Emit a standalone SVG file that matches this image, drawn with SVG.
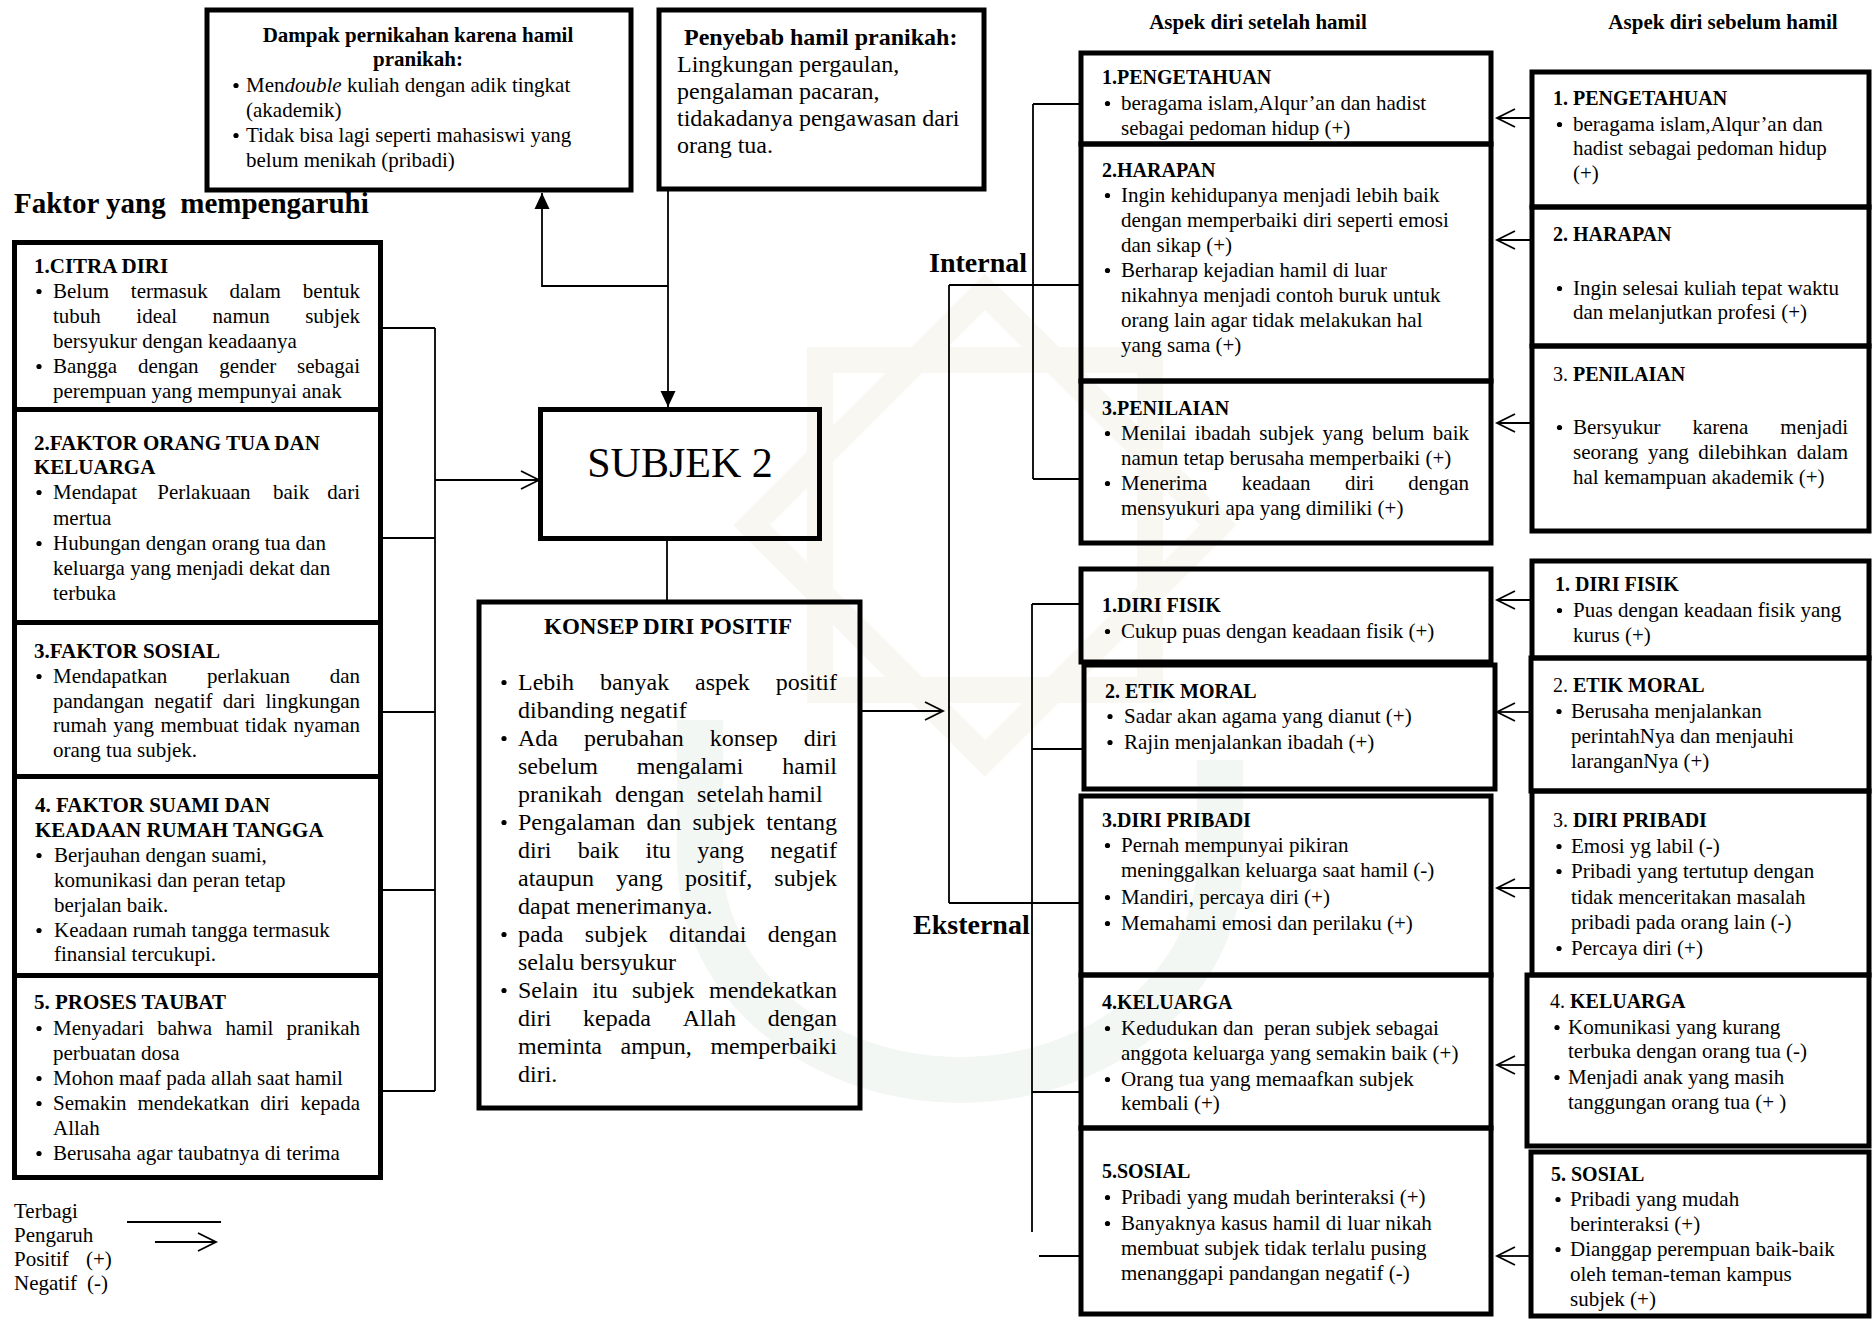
<svg xmlns="http://www.w3.org/2000/svg" xmlns:xlink="http://www.w3.org/1999/xlink" width="1872" height="1319" viewBox="0 0 1872 1319">
<style>
.t{font-family:"Liberation Serif","Times New Roman",serif;font-size:21px;fill:#000}
.b{font-weight:bold}
.s20{font-size:20px}
.s23{font-size:23px}
.s24{font-size:24px}
.s28{font-size:28px}
.s29{font-size:29px}
.s42{font-size:42px}
.bx{fill:none;stroke:#000;stroke-width:5}
.e{text-anchor:end}
.m{text-anchor:middle}
</style>
<defs>
<circle id="b" r="2.6" fill="#000"/>
<marker id="ao" markerUnits="userSpaceOnUse" markerWidth="24" markerHeight="24" refX="20" refY="10" orient="auto" overflow="visible"><path d="M2,1 L20,10 L2,19" fill="none" stroke="#000" stroke-width="1.8"/></marker>
<marker id="af" markerUnits="userSpaceOnUse" markerWidth="18" markerHeight="16" refX="16" refY="7.5" orient="auto" overflow="visible"><path d="M0,0 L16,7.5 L0,15 z" fill="#000"/></marker>
</defs>
<rect width="1872" height="1319" fill="#fff"/>
<g id="watermark" fill="none">
<g stroke="#f9f7f1" stroke-width="26">
<rect x="820" y="360" width="330" height="330"/>
<rect x="820" y="360" width="330" height="330" transform="rotate(45 985 525)"/>
</g>
<g stroke="#f3f7f4" stroke-width="46">
<path d="M700,720 L700,860 A260,220 0 0 0 1220,860 L1220,760"/>
</g>
</g>

<g id="connectors" fill="none" stroke="#000" stroke-width="1.8">
<path d="M383,328 H435 M383,538 H435 M383,712 H435 M383,890 H435 M383,1091 H435 M435,328 V1091"/>
<line x1="435" y1="480" x2="539" y2="480" marker-end="url(#ao)"/>
<path d="M668,189 V407" marker-end="url(#af)"/>
<path d="M668,286 H542 V193" marker-end="url(#af)"/>
<line x1="667" y1="539" x2="667" y2="604"/>
<line x1="860" y1="711" x2="943" y2="711" marker-end="url(#ao)"/>
<path d="M949,285 V903 M949,285 H1080 M949,903 H1080"/>
<path d="M1033,104 V479 M1033,104 H1080 M1033,479 H1080"/>
<path d="M1032,604 V1232 M1032,604 H1080 M1032,749 H1082 M1032,1092 H1080 M1039,1256 H1080"/>
<line x1="1530" y1="118" x2="1497" y2="118" marker-end="url(#ao)"/>
<line x1="1530" y1="240" x2="1497" y2="240" marker-end="url(#ao)"/>
<line x1="1530" y1="423" x2="1497" y2="423" marker-end="url(#ao)"/>
<line x1="1530" y1="600" x2="1497" y2="600" marker-end="url(#ao)"/>
<line x1="1529" y1="712" x2="1497" y2="712" marker-end="url(#ao)"/>
<line x1="1530" y1="888" x2="1497" y2="888" marker-end="url(#ao)"/>
<line x1="1525" y1="1065" x2="1497" y2="1065" marker-end="url(#ao)"/>
<line x1="1529" y1="1256" x2="1497" y2="1256" marker-end="url(#ao)"/>
</g>

<g id="labels">
<text class="t b s29" x="14" y="213" xml:space="preserve">Faktor yang  mempengaruhi</text>
<text class="t b s28" x="929" y="272">Internal</text>
<text class="t b s28" x="913" y="934">Eksternal</text>
<text class="t b m" x="1258" y="29">Aspek diri setelah hamil</text>
<text class="t b m" x="1723" y="29">Aspek diri sebelum hamil</text>
</g>

<g id="dampak">
<rect class="bx" x="207" y="10" width="424" height="180"/>
<text class="t b m" x="418" y="42">Dampak pernikahan karena hamil</text>
<text class="t b m" x="418" y="66">pranikah:</text>
<use href="#b" x="236" y="85.5"/>
<text class="t" x="246" y="92">Men<tspan font-style="italic">double</tspan> kuliah dengan adik tingkat</text>
<text class="t" x="246" y="117">(akademik)</text>
<use href="#b" x="236" y="135.5"/>
<text class="t" x="246" y="142">Tidak bisa lagi seperti mahasiswi yang</text>
<text class="t" x="246" y="167">belum menikah (pribadi)</text>
</g>

<g id="penyebab">
<rect class="bx" x="659" y="10" width="325" height="179"/>
<text class="t b s24" x="684" y="45">Penyebab hamil pranikah:</text>
<text class="t s24" x="677" y="72">Lingkungan pergaulan,</text>
<text class="t s24" x="677" y="99">pengalaman pacaran,</text>
<text class="t s24" x="677" y="126">tidakadanya pengawasan dari</text>
<text class="t s24" x="677" y="153">orang tua.</text>
</g>

<g id="citra-diri">
<rect class="bx" x="14.5" y="242.5" width="366" height="167"/>
<text class="t b" x="34" y="273">1.CITRA DIRI</text>
<use href="#b" x="39" y="291.5"/>
<text class="t" y="298"><tspan x="53">Belum</tspan><tspan x="130.8">termasuk</tspan><tspan x="229.6">dalam</tspan></text>
<text class="t e" x="360" y="298">bentuk</text>
<text class="t" y="323"><tspan x="53">tubuh</tspan><tspan x="136.3">ideal</tspan><tspan x="212.6">namun</tspan></text>
<text class="t e" x="360" y="323">subjek</text>
<text class="t" x="53" y="348">bersyukur dengan keadaanya</text>
<use href="#b" x="39" y="366.5"/>
<text class="t" y="373"><tspan x="53">Bangga</tspan><tspan x="137.9">dengan</tspan><tspan x="219.2">gender</tspan></text>
<text class="t e" x="360" y="373">sebagai</text>
<text class="t" x="53" y="398">perempuan yang mempunyai anak</text>
</g>

<g id="faktor-orang-tua">
<rect class="bx" x="14.5" y="409.5" width="366" height="213"/>
<text class="t b" x="34" y="450">2.FAKTOR ORANG TUA DAN</text>
<text class="t b" x="34" y="474">KELUARGA</text>
<use href="#b" x="39" y="492.5"/>
<text class="t" y="499"><tspan x="53">Mendapat</tspan><tspan x="157.3">Perlakuaan</tspan><tspan x="273">baik</tspan></text>
<text class="t e" x="360" y="499">dari</text>
<text class="t" x="53" y="524.5">mertua</text>
<use href="#b" x="39" y="543.5"/>
<text class="t" x="53" y="550">Hubungan dengan orang tua dan</text>
<text class="t" x="53" y="575">keluarga yang menjadi dekat dan</text>
<text class="t" x="53" y="600">terbuka</text>
</g>

<g id="faktor-sosial">
<rect class="bx" x="14.5" y="622.5" width="366" height="154"/>
<text class="t b" x="34" y="658">3.FAKTOR SOSIAL</text>
<use href="#b" x="39" y="676.5"/>
<text class="t" y="683"><tspan x="53">Mendapatkan</tspan><tspan x="207.1">perlakuan</tspan></text>
<text class="t e" x="360" y="683">dan</text>
<text class="t" y="708"><tspan x="53">pandangan</tspan><tspan x="154.2">negatif</tspan><tspan x="222.7">dari</tspan></text>
<text class="t e" x="360" y="708">lingkungan</text>
<text class="t" y="732"><tspan x="53">rumah</tspan><tspan x="113.2">yang</tspan><tspan x="160.4">membuat</tspan><tspan x="245.1">tidak</tspan></text>
<text class="t e" x="360" y="732">nyaman</text>
<text class="t" x="53" y="757">orang tua subjek.</text>
</g>

<g id="faktor-suami">
<rect class="bx" x="14.5" y="776.5" width="366" height="199" stroke-width="6"/>
<text class="t b" x="35" y="812">4. FAKTOR SUAMI DAN</text>
<text class="t b" x="35" y="837">KEADAAN RUMAH TANGGA</text>
<use href="#b" x="39" y="855.5"/>
<text class="t" x="54" y="862">Berjauhan dengan suami,</text>
<text class="t" x="54" y="887">komunikasi dan peran tetap</text>
<text class="t" x="54" y="912">berjalan baik.</text>
<use href="#b" x="39" y="930.5"/>
<text class="t" x="54" y="937">Keadaan rumah tangga termasuk</text>
<text class="t" x="54" y="961">finansial tercukupi.</text>
</g>

<g id="proses-taubat">
<rect class="bx" x="14.5" y="975.5" width="366" height="202"/>
<text class="t b" x="34" y="1009">5. PROSES TAUBAT</text>
<use href="#b" x="39" y="1028.5"/>
<text class="t" y="1035"><tspan x="53">Menyadari</tspan><tspan x="157.3">bahwa</tspan><tspan x="225.4">hamil</tspan></text>
<text class="t e" x="360" y="1035">pranikah</text>
<text class="t" x="53" y="1060">perbuatan dosa</text>
<use href="#b" x="39" y="1078.5"/>
<text class="t" x="53" y="1085">Mohon maaf pada allah saat hamil</text>
<use href="#b" x="39" y="1103.5"/>
<text class="t" y="1110"><tspan x="53">Semakin</tspan><tspan x="137.4">mendekatkan</tspan><tspan x="260.3">diri</tspan></text>
<text class="t e" x="360" y="1110">kepada</text>
<text class="t" x="53" y="1135">Allah</text>
<use href="#b" x="39" y="1153.5"/>
<text class="t" x="53" y="1160">Berusaha agar taubatnya di terima</text>
</g>

<g id="legend">
<text class="t" x="14" y="1218">Terbagi</text>
<text class="t" x="14" y="1242">Pengaruh</text>
<text class="t" x="14" y="1266">Positif<tspan x="86">(+)</tspan></text>
<text class="t" x="14" y="1290">Negatif<tspan x="87">(-)</tspan></text>
<g fill="none" stroke="#000" stroke-width="1.8">
<line x1="127" y1="1222" x2="221" y2="1222"/>
<line x1="155" y1="1242" x2="216" y2="1242" marker-end="url(#ao)"/>
</g>
</g>

<g id="subjek">
<rect class="bx" x="540.5" y="409.5" width="279" height="129"/>
<text class="t s42 m" x="680" y="477">SUBJEK 2</text>
</g>

<g id="konsep-diri-positif">
<rect class="bx" x="479" y="602" width="381" height="506"/>
<text class="t b s23 m" x="668" y="634">KONSEP DIRI POSITIF</text>
<use href="#b" x="504" y="682.5"/>
<text class="t s24" y="690"><tspan x="518">Lebih</tspan><tspan x="599.9">banyak</tspan><tspan x="695.1">aspek</tspan></text>
<text class="t s24 e" x="837" y="690">positif</text>
<text class="t s24" x="518" y="718">dibanding negatif</text>
<use href="#b" x="504" y="738.5"/>
<text class="t s24" y="746"><tspan x="518">Ada</tspan><tspan x="583.9">perubahan</tspan><tspan x="709.8">konsep</tspan></text>
<text class="t s24 e" x="837" y="746">diri</text>
<text class="t s24" y="774"><tspan x="518">sebelum</tspan><tspan x="636.8">mengalami</tspan></text>
<text class="t s24 e" x="837" y="774">hamil</text>
<text class="t s24" y="802"><tspan x="518">pranikah</tspan><tspan x="615">dengan</tspan><tspan x="697">setelah</tspan><tspan x="768">hamil</tspan></text>
<use href="#b" x="504" y="822.5"/>
<text class="t s24" y="830"><tspan x="518">Pengalaman</tspan><tspan x="646.5">dan</tspan><tspan x="692.4">subjek</tspan></text>
<text class="t s24 e" x="837" y="830">tentang</text>
<text class="t s24" y="858"><tspan x="518">diri</tspan><tspan x="577.8">baik</tspan><tspan x="645.5">itu</tspan><tspan x="697.3">yang</tspan></text>
<text class="t s24 e" x="837" y="858">negatif</text>
<text class="t s24" y="886"><tspan x="518">ataupun</tspan><tspan x="616.1">yang</tspan><tspan x="684.9">positif,</tspan></text>
<text class="t s24 e" x="837" y="886">subjek</text>
<text class="t s24" x="518" y="914">dapat menerimanya.</text>
<use href="#b" x="504" y="934.5"/>
<text class="t s24" y="942"><tspan x="518">pada</tspan><tspan x="584.8">subjek</tspan><tspan x="669">ditandai</tspan></text>
<text class="t s24 e" x="837" y="942">dengan</text>
<text class="t s24" x="518" y="970">selalu bersyukur</text>
<use href="#b" x="504" y="990.5"/>
<text class="t s24" y="998"><tspan x="518">Selain</tspan><tspan x="592.3">itu</tspan><tspan x="631.9">subjek</tspan></text>
<text class="t s24 e" x="837" y="998">mendekatkan</text>
<text class="t s24" y="1026"><tspan x="518">diri</tspan><tspan x="583">kepada</tspan><tspan x="682.7">Allah</tspan></text>
<text class="t s24 e" x="837" y="1026">dengan</text>
<text class="t s24" y="1054"><tspan x="518">meminta</tspan><tspan x="620.5">ampun,</tspan></text>
<text class="t s24 e" x="837" y="1054">memperbaiki</text>
<text class="t s24" x="518" y="1082">diri.</text>
</g>

<g id="setelah-pengetahuan">
<rect class="bx" x="1081" y="53" width="410" height="91"/>
<text class="t b s20" x="1102" y="84">1.PENGETAHUAN</text>
<use href="#b" x="1107.5" y="103.5"/>
<text class="t" x="1121" y="110">beragama islam,Alqur’an dan hadist</text>
<text class="t" x="1121" y="135">sebagai pedoman hidup (+)</text>
</g>

<g id="setelah-harapan">
<rect class="bx" x="1081" y="144" width="410" height="237"/>
<text class="t b s20" x="1102" y="177">2.HARAPAN</text>
<use href="#b" x="1107.5" y="195.5"/>
<text class="t" x="1121" y="202">Ingin kehidupanya menjadi lebih baik</text>
<text class="t" x="1121" y="227">dengan memperbaiki diri seperti emosi</text>
<text class="t" x="1121" y="252">dan sikap (+)</text>
<use href="#b" x="1107.5" y="270.5"/>
<text class="t" x="1121" y="277">Berharap kejadian hamil di luar</text>
<text class="t" x="1121" y="302">nikahnya menjadi contoh buruk untuk</text>
<text class="t" x="1121" y="327">orang lain agar tidak melakukan hal</text>
<text class="t" x="1121" y="352">yang sama (+)</text>
</g>

<g id="setelah-penilaian">
<rect class="bx" x="1081" y="381" width="410" height="162"/>
<text class="t b s20" x="1102" y="415">3.PENILAIAN</text>
<use href="#b" x="1107.5" y="433.5"/>
<text class="t" y="440"><tspan x="1121">Menilai</tspan><tspan x="1194.8">ibadah</tspan><tspan x="1259.3">subjek</tspan><tspan x="1322.6">yang</tspan><tspan x="1371.9">belum</tspan></text>
<text class="t e" x="1469" y="440">baik</text>
<text class="t" x="1121" y="465">namun tetap berusaha memperbaiki (+)</text>
<use href="#b" x="1107.5" y="483.5"/>
<text class="t" y="490"><tspan x="1121">Menerima</tspan><tspan x="1241.7">keadaan</tspan><tspan x="1344.9">diri</tspan></text>
<text class="t e" x="1469" y="490">dengan</text>
<text class="t" x="1121" y="515">mensyukuri apa yang dimiliki (+)</text>
</g>

<g id="setelah-diri-fisik">
<rect class="bx" x="1081" y="569" width="410" height="93"/>
<text class="t b s20" x="1102" y="612">1.DIRI FISIK</text>
<use href="#b" x="1107.5" y="631.5"/>
<text class="t" x="1121" y="638">Cukup puas dengan keadaan fisik (+)</text>
</g>

<g id="setelah-etik-moral">
<rect class="bx" x="1084" y="665" width="411" height="124"/>
<text class="t b s20" x="1105" y="698">2. ETIK MORAL</text>
<use href="#b" x="1110" y="716.5"/>
<text class="t" x="1124" y="723">Sadar akan agama yang dianut (+)</text>
<use href="#b" x="1110" y="742.5"/>
<text class="t" x="1124" y="749">Rajin menjalankan ibadah (+)</text>
</g>

<g id="setelah-diri-pribadi">
<rect class="bx" x="1081" y="796" width="410" height="179"/>
<text class="t b s20" x="1102" y="827">3.DIRI PRIBADI</text>
<use href="#b" x="1107.5" y="845.5"/>
<text class="t" x="1121" y="852">Pernah mempunyai pikiran</text>
<text class="t" x="1121" y="877">meninggalkan keluarga saat hamil (-)</text>
<use href="#b" x="1107.5" y="897.5"/>
<text class="t" x="1121" y="904">Mandiri, percaya diri (+)</text>
<use href="#b" x="1107.5" y="923.5"/>
<text class="t" x="1121" y="930">Memahami emosi dan perilaku (+)</text>
</g>

<g id="setelah-keluarga">
<rect class="bx" x="1081" y="975" width="410" height="153"/>
<text class="t b s20" x="1102" y="1009">4.KELUARGA</text>
<use href="#b" x="1107.5" y="1028.5"/>
<text class="t" x="1121" y="1035" xml:space="preserve">Kedudukan dan  peran subjek sebagai</text>
<text class="t" x="1121" y="1060">anggota keluarga yang semakin baik (+)</text>
<use href="#b" x="1107.5" y="1079.5"/>
<text class="t" x="1121" y="1086">Orang tua yang memaafkan subjek</text>
<text class="t" x="1121" y="1110">kembali (+)</text>
</g>

<g id="setelah-sosial">
<rect class="bx" x="1081" y="1128" width="410" height="186"/>
<text class="t b s20" x="1102" y="1178">5.SOSIAL</text>
<use href="#b" x="1107.5" y="1197.5"/>
<text class="t" x="1121" y="1204">Pribadi yang mudah berinteraksi (+)</text>
<use href="#b" x="1107.5" y="1223.5"/>
<text class="t" x="1121" y="1230">Banyaknya kasus hamil di luar nikah</text>
<text class="t" x="1121" y="1255">membuat subjek tidak terlalu pusing</text>
<text class="t" x="1121" y="1280">menanggapi pandangan negatif (-)</text>
</g>

<g id="sebelum-pengetahuan">
<rect class="bx" x="1532" y="72" width="337" height="135"/>
<text class="t b s20" x="1553" y="105">1. PENGETAHUAN</text>
<use href="#b" x="1559.5" y="124.5"/>
<text class="t" x="1573" y="131">beragama islam,Alqur’an dan</text>
<text class="t" x="1573" y="155">hadist sebagai pedoman hidup</text>
<text class="t" x="1573" y="180">(+)</text>
</g>

<g id="sebelum-harapan">
<rect class="bx" x="1532" y="207" width="337" height="139"/>
<text class="t b s20" x="1553" y="241">2. HARAPAN</text>
<use href="#b" x="1559.5" y="288.5"/>
<text class="t" x="1573" y="295">Ingin selesai kuliah tepat waktu</text>
<text class="t" x="1573" y="319">dan melanjutkan profesi (+)</text>
</g>

<g id="sebelum-penilaian">
<rect class="bx" x="1532" y="346" width="337" height="185"/>
<text class="t s20" x="1553" y="381">3. <tspan font-weight="bold">PENILAIAN</tspan></text>
<use href="#b" x="1559.5" y="427.5"/>
<text class="t" y="434"><tspan x="1573">Bersyukur</tspan><tspan x="1692.4">karena</tspan></text>
<text class="t e" x="1848" y="434">menjadi</text>
<text class="t" y="459"><tspan x="1573">seorang</tspan><tspan x="1647.9">yang</tspan><tspan x="1698.3">dilebihkan</tspan></text>
<text class="t e" x="1848" y="459">dalam</text>
<text class="t" x="1573" y="484">hal kemampuan akademik (+)</text>
</g>

<g id="sebelum-diri-fisik">
<rect class="bx" x="1532" y="561" width="337" height="97"/>
<text class="t b s20" x="1555" y="591">1. DIRI FISIK</text>
<use href="#b" x="1559.5" y="610.5"/>
<text class="t" x="1573" y="617">Puas dengan keadaan fisik yang</text>
<text class="t" x="1573" y="642">kurus (+)</text>
</g>

<g id="sebelum-etik-moral">
<rect class="bx" x="1531" y="658" width="338" height="133"/>
<text class="t s20" x="1553" y="692">2. <tspan font-weight="bold">ETIK MORAL</tspan></text>
<use href="#b" x="1559" y="711.5"/>
<text class="t" x="1571" y="718">Berusaha menjalankan</text>
<text class="t" x="1571" y="743">perintahNya dan menjauhi</text>
<text class="t" x="1571" y="768">laranganNya (+)</text>
</g>

<g id="sebelum-diri-pribadi">
<rect class="bx" x="1532" y="791" width="337" height="184"/>
<text class="t s20" x="1553" y="827">3. <tspan font-weight="bold">DIRI PRIBADI</tspan></text>
<use href="#b" x="1559" y="846.5"/>
<text class="t" x="1571" y="853">Emosi yg labil (-)</text>
<use href="#b" x="1559" y="871.5"/>
<text class="t" x="1571" y="878">Pribadi yang tertutup dengan</text>
<text class="t" x="1571" y="904">tidak menceritakan masalah</text>
<text class="t" x="1571" y="929">pribadi pada orang lain (-)</text>
<use href="#b" x="1559" y="948.5"/>
<text class="t" x="1571" y="955">Percaya diri (+)</text>
</g>

<g id="sebelum-keluarga">
<rect class="bx" x="1527" y="975" width="342" height="171"/>
<text class="t s20" x="1550" y="1008">4. <tspan font-weight="bold">KELUARGA</tspan></text>
<use href="#b" x="1557" y="1027.5"/>
<text class="t" x="1568" y="1034">Komunikasi yang kurang</text>
<text class="t" x="1568" y="1058">terbuka dengan orang tua (-)</text>
<use href="#b" x="1557" y="1077.5"/>
<text class="t" x="1568" y="1084">Menjadi anak yang masih</text>
<text class="t" x="1568" y="1109">tanggungan orang tua (+ )</text>
</g>

<g id="sebelum-sosial">
<rect class="bx" x="1531" y="1152" width="338" height="164"/>
<text class="t b s20" x="1551" y="1181">5. SOSIAL</text>
<use href="#b" x="1558" y="1199.5"/>
<text class="t" x="1570" y="1206">Pribadi yang mudah</text>
<text class="t" x="1570" y="1231">berinteraksi (+)</text>
<use href="#b" x="1558" y="1249.5"/>
<text class="t" x="1570" y="1256">Dianggap perempuan baik-baik</text>
<text class="t" x="1570" y="1281">oleh teman-teman kampus</text>
<text class="t" x="1570" y="1306">subjek (+)</text>
</g>
</svg>
